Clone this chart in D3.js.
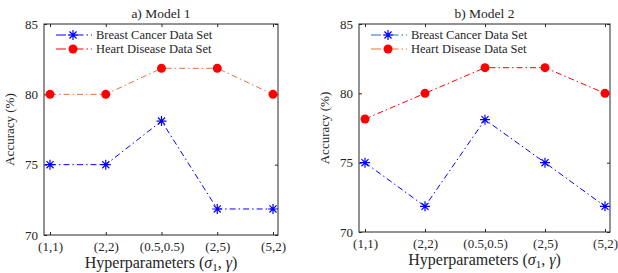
<!DOCTYPE html>
<html>
<head>
<meta charset="utf-8">
<script src="https://cdn.jsdelivr.net/npm/d3@7"></script>
</head>
<body style="margin:0">
<script>
// data
var categories = ["(1,1)", "(2,2)", "(0.5,0.5)", "(2,5)", "(5,2)"];
var yTicks = [70, 75, 80, 85];
var breastModel1 = [75, 75, 78.1, 71.85, 71.85];
var heartModel1 = [80, 80, 81.85, 81.85, 80];
var breastModel2 = [75, 71.85, 78.1, 75, 71.85];
var heartModel2 = [78.15, 80, 81.85, 81.85, 80];

var W = 618, H = 273;
var svg = d3.select("body").append("svg")
  .attr("width", W)
  .attr("height", H);

// panel settings
var panels = [
  { title: "a) Model 1", left: 44, right: 278, top: 24, bottom: 235,
    breast: breastModel1, heart: heartModel1,
    breastLine: "#0000ff", heartLine: "#e8703a",
    legBreast: "#0000ff", legHeart: "#ff0000", ylabX: 14 },
  { title: "b) Model 2", left: 359, right: 610, top: 24, bottom: 232,
    breast: breastModel2, heart: heartModel2,
    breastLine: "#0000ff", heartLine: "#ff0000",
    legBreast: "#1a72c8", legHeart: "#e8703a", ylabX: 329 }
];

var dashDot = "6,3,1.5,3";

starPath = function(r) {
  var d = "";
  for (var i = 0; i < 4; i++) {
    var a = i * Math.PI / 4;
    var dx = r * Math.sin(a), dy = r * Math.cos(a);
    d += "M" + (-dx) + "," + (-dy) + "L" + dx + "," + dy;
  }
  return d;
}

serif = function(sel, size) {
  return sel.style("font-family", "'Liberation Serif'")
    .style("font-size", size + "px")
    .style("fill", "#262626");
}

panels.forEach(function(p) {
  var g = svg.append("g");
  var w = p.right - p.left, h = p.bottom - p.top;

  var x = d3.scalePoint()
    .domain(categories)
    .range([p.left + 6, p.right - 5]);
  var y = d3.scaleLinear()
    .domain([70, 85])
    .range([p.bottom, p.top]);

  // box
  g.append("rect")
    .attr("x", p.left).attr("y", p.top)
    .attr("width", w).attr("height", h)
    .attr("fill", "none")
    .attr("stroke", "#262626")
    .attr("stroke-width", 1);

  // axes with inward ticks
  var axB = g.append("g").attr("transform", "translate(0," + p.bottom + ")")
    .call(d3.axisBottom(x).tickSizeInner(-3).tickSizeOuter(0).tickPadding(7));
  var axT = g.append("g").attr("transform", "translate(0," + p.top + ")")
    .call(d3.axisTop(x).tickSizeInner(-3).tickSizeOuter(0).tickFormat(""));
  var axL = g.append("g").attr("transform", "translate(" + p.left + ",0)")
    .call(d3.axisLeft(y).tickValues(yTicks).tickSizeInner(-3).tickSizeOuter(0).tickPadding(6));
  var axR = g.append("g").attr("transform", "translate(" + p.right + ",0)")
    .call(d3.axisRight(y).tickValues(yTicks).tickSizeInner(-3).tickSizeOuter(0).tickFormat(""));
  [axB, axT, axL, axR].forEach(function(a) {
    a.attr("font-family", null).attr("font-size", null);
    a.select(".domain").remove();
    a.selectAll("line").attr("stroke", "#262626");
    serif(a.selectAll("text"), 13);
  });

  // title
  serif(g.append("text"), 13.5)
    .attr("x", (p.left + p.right) / 2)
    .attr("y", 18)
    .attr("text-anchor", "middle")
    .text(p.title);

  // axis labels
  serif(g.append("text"), 13)
    .attr("transform", "translate(" + p.ylabX + "," + ((p.top + p.bottom) / 2) + ") rotate(-90)")
    .attr("text-anchor", "middle")
    .text("Accuracy (%)");

  var xl = serif(g.append("text"), 16)
    .attr("x", (p.left + p.right) / 2)
    .attr("y", p.bottom + 33)
    .attr("text-anchor", "middle");
  xl.append("tspan").text("Hyperparameters (");
  xl.append("tspan").style("font-style", "italic").text("σ");
  xl.append("tspan").attr("dy", 3).style("font-size", "11px").text("1");
  xl.append("tspan").attr("dy", -3).text(", ");
  xl.append("tspan").style("font-style", "italic").text("γ");
  xl.append("tspan").text(")");

  var line = d3.line()
    .x(function(d, i) { return x(categories[i]); })
    .y(function(d) { return y(d); });

  // heart
  g.append("path")
    .datum(p.heart)
    .attr("d", line)
    .attr("fill", "none")
    .attr("stroke", p.heartLine)
    .attr("stroke-width", 1)
    .attr("stroke-dasharray", dashDot);
  g.selectAll(".heart-pt")
    .data(p.heart)
    .enter().append("circle")
    .attr("class", "heart-pt")
    .attr("cx", function(d, i) { return x(categories[i]); })
    .attr("cy", function(d) { return y(d); })
    .attr("r", 4.5)
    .attr("fill", "#ff0000");

  // breast
  g.append("path")
    .datum(p.breast)
    .attr("d", line)
    .attr("fill", "none")
    .attr("stroke", p.breastLine)
    .attr("stroke-width", 1)
    .attr("stroke-dasharray", dashDot);
  g.selectAll(".breast-pt")
    .data(p.breast)
    .enter().append("path")
    .attr("class", "breast-pt")
    .attr("transform", function(d, i) { return "translate(" + x(categories[i]) + "," + y(d) + ")"; })
    .attr("d", starPath(5))
    .attr("stroke", "#0000ff")
    .attr("stroke-width", 1.2);

  // legend
  var lx = p.left + 12, ly = 35;
  var legend = [
    { label: "Breast Cancer Data Set", color: p.legBreast, marker: "star" },
    { label: "Heart Disease Data Set", color: p.legHeart, marker: "dot" }
  ];
  legend.forEach(function(l, i) {
    var yy = ly + i * 14;
    g.append("line")
      .attr("x1", lx).attr("x2", lx + 36)
      .attr("y1", yy).attr("y2", yy)
      .attr("stroke", l.color)
      .attr("stroke-width", 1)
      .attr("stroke-dasharray", "10,3,1.5,3");
    if (l.marker === "star") {
      g.append("path")
        .attr("transform", "translate(" + (lx + 17) + "," + yy + ")")
        .attr("d", starPath(5))
        .attr("stroke", "#0000ff")
        .attr("stroke-width", 1.2);
    } else {
      g.append("circle")
        .attr("cx", lx + 17).attr("cy", yy)
        .attr("r", 4.5)
        .attr("fill", "#ff0000");
    }
    serif(g.append("text"), 12.5)
      .attr("x", lx + 40)
      .attr("y", yy + 4)
      .text(l.label);
  });
});
</script>
</body>
</html>
